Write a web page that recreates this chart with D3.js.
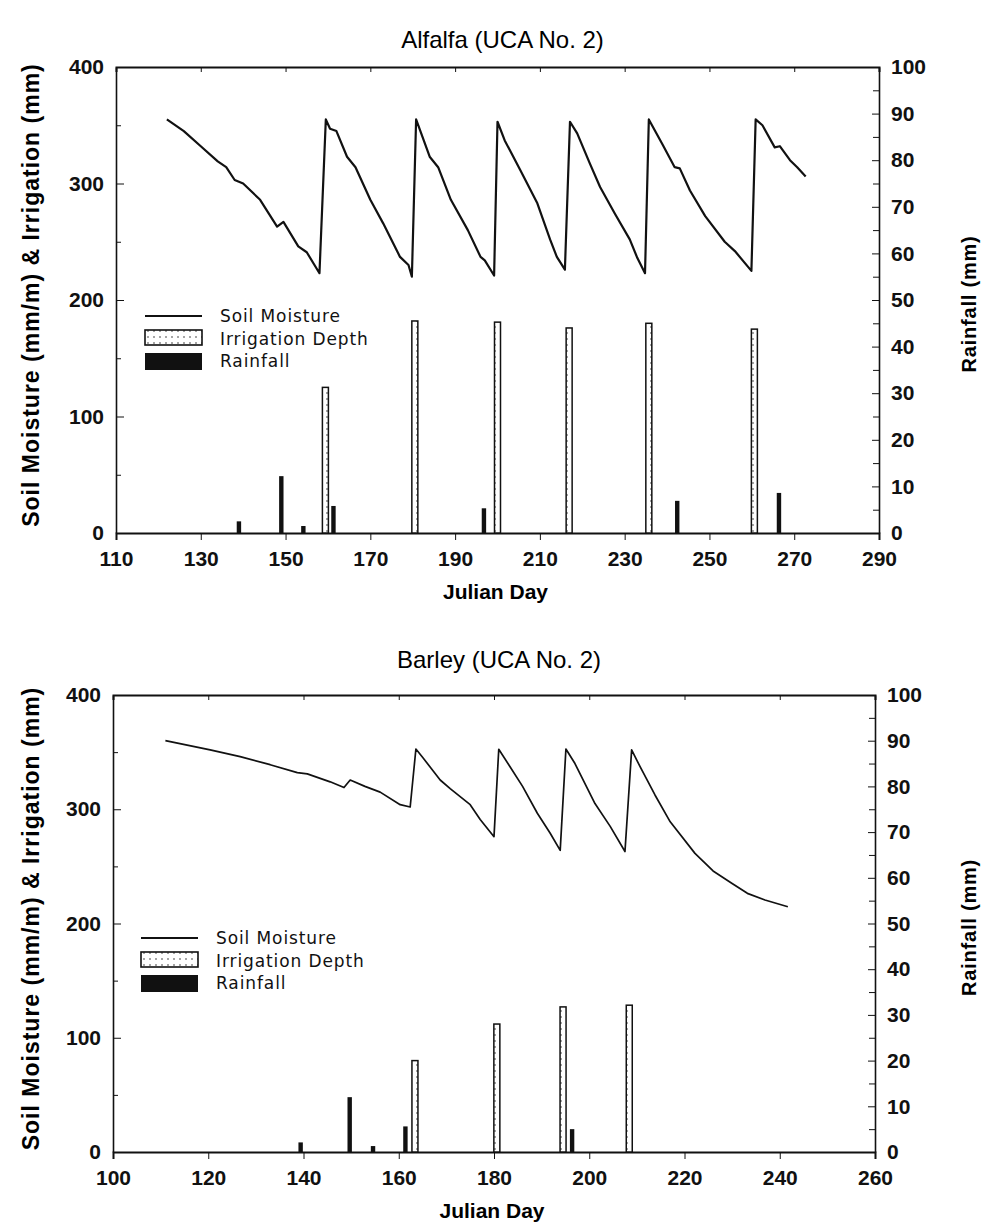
<!DOCTYPE html>
<html>
<head>
<meta charset="utf-8">
<script src="https://cdn.jsdelivr.net/npm/d3@7"></script>
<style>
    body { margin: 0; background: #fff; }
    .tick text { font-family: "Liberation Sans", Arial, sans-serif; font-size: 21px; font-weight: bold; fill: #111; }
    .domain, .tick line { stroke: #111; }
    .legend text { font-family: "DejaVu Sans", sans-serif; font-size: 17px; letter-spacing: 0.9px; fill: #111; }
</style>
</head>
<body>
<svg id="chart" width="982" height="1226"></svg>
<script>
// Alfalfa: soil moisture [julian day, mm/m]
const alfalfaMoisture = [
    [122, 355], [126, 345], [130, 332], [134, 319], [136, 314], [138, 303], [140, 300],
    [144, 286], [148, 263], [149.5, 267], [153, 246], [155, 241], [158, 223],
    [159.5, 355], [160.5, 347], [162, 345], [164.5, 323], [166.5, 314], [170, 286],
    [173, 266], [177, 237], [179, 230], [179.8, 220],
    [180.8, 355], [184, 323], [186, 314], [189, 286], [193, 260], [196, 237],
    [197, 234], [199.2, 221],
    [200, 353], [201.7, 337], [205.3, 312], [209.4, 283], [212.4, 252], [214, 237],
    [215.9, 226],
    [217.1, 353], [218.8, 343], [221.8, 317], [224.2, 297], [227.7, 274], [231.2, 252],
    [233, 236], [234.8, 223],
    [235.7, 355], [239, 333], [241.8, 314], [243, 313], [245.4, 294], [249, 272],
    [253.6, 250], [256, 242], [259.9, 225],
    [260.9, 355], [262.5, 350], [265.4, 331], [266.6, 332], [269, 320], [270.7, 314],
    [272.7, 306],
];
// Alfalfa: irrigation depth [day, mm]
const alfalfaIrrigation = [[159.4, 125], [180.5, 182], [200, 181], [216.9, 176], [235.7, 180], [260.6, 175]];
// Alfalfa: rainfall [day, mm]
const alfalfaRain = [[139, 2.5], [149, 12.2], [154.2, 1.5], [161.3, 5.8], [196.8, 5.3], [242.4, 6.9], [266.4, 8.6]];

// Barley
const barleyMoisture = [
    [111, 360], [120.4, 352], [126.7, 346], [133, 339], [138.7, 332], [140.8, 331],
    [145.6, 324], [148.5, 319], [149.8, 325.6], [152.9, 320], [156.1, 315], [160.3, 304],
    [162.4, 302],
    [163.6, 352.7], [165, 345.5], [168.7, 325.6], [170.8, 318], [175, 304], [177.1, 291],
    [180, 276],
    [181, 352.5], [183.4, 337], [186, 320], [189.1, 296.5], [191.8, 279], [193.9, 264],
    [195.1, 352.7], [197, 340], [201.2, 305], [204.4, 285], [207.5, 263],
    [208.9, 352], [210.7, 337], [213.8, 312.5], [217, 289], [222.2, 261.4], [226, 246],
    [230, 235], [233.2, 226.4], [236.9, 220.6], [241.7, 214.7],
];
const barleyIrrigation = [[163.4, 80], [180.6, 112], [194.5, 127], [208.4, 128.5]];
const barleyRain = [[139.4, 2.1], [149.7, 12], [154.6, 1.3], [161.4, 5.6], [196.4, 5]];

const alfalfaTicks = d3.range(110, 291, 20);
const barleyTicks = d3.range(100, 261, 20);
const moistureTicks = [0, 100, 200, 300, 400];
const rainTicks = d3.range(0, 101, 10);
const legendLabels = ['Soil Moisture', 'Irrigation Depth', 'Rainfall'];

const svg = d3.select('#chart');
const labelFont = '"Liberation Sans", Arial, sans-serif';

// dotted fill for the irrigation bars
const defs = svg.append('defs');
const pat = defs.append('pattern')
    .attr('id', 'dots')
    .attr('patternUnits', 'userSpaceOnUse')
    .attr('width', 6)
    .attr('height', 6);
pat.append('rect').attr('width', 6).attr('height', 6).attr('fill', '#fff');
pat.append('circle').attr('cx', 3).attr('cy', 3).attr('r', 0.8).attr('fill', '#333');

function drawPanel(opt) {
    const x = d3.scaleLinear().domain(opt.domain).range([opt.left, opt.right]);
    const y = d3.scaleLinear().domain([0, 400]).range([opt.bottom, opt.top]);
    const yr = d3.scaleLinear().domain([0, 100]).range([opt.bottom, opt.top]);
    const g = svg.append('g');

    g.append('text')
        .attr('x', (opt.left + opt.right) / 2 + 5)
        .attr('y', opt.titleY)
        .attr('text-anchor', 'middle')
        .style('font-family', labelFont)
        .style('font-size', '24px')
        .text(opt.title);

    // minor ticks
    g.append('g')
        .attr('transform', `translate(${opt.left},0)`)
        .call(d3.axisRight(y).tickValues(d3.range(50, 400, 100)).tickSize(5).tickFormat(''))
        .call((s) => s.select('.domain').remove());
    g.append('g')
        .attr('transform', `translate(${opt.right},0)`)
        .call(d3.axisLeft(yr).tickValues(d3.range(5, 100, 10)).tickSize(6).tickFormat(''))
        .call((s) => s.select('.domain').remove());

    const yAxis = g.append('g')
        .attr('transform', `translate(${opt.left},0)`)
        .call(d3.axisLeft(y).tickValues(moistureTicks).tickSizeInner(-8).tickSizeOuter(0).tickPadding(12));
    yAxis.select('.domain').attr('stroke-width', 1.6);

    const rAxis = g.append('g')
        .attr('transform', `translate(${opt.right},0)`)
        .call(d3.axisRight(yr).tickValues(rainTicks).tickSizeInner(-7).tickSizeOuter(0).tickPadding(12));
    rAxis.select('.domain').attr('stroke-width', 1.6);

    const xAxis = g.append('g')
        .attr('transform', `translate(0,${opt.bottom})`)
        .call(d3.axisBottom(x).tickValues(opt.ticks).tickSize(7).tickPadding(7));
    xAxis.select('.domain').attr('stroke-width', 2);
    xAxis.selectAll('.tick text').attr('dy', '0.9em');

    const topAxis = g.append('g')
        .attr('transform', `translate(0,${opt.top})`)
        .call(d3.axisTop(x).tickValues(opt.ticks.slice(1, -1)).tickSize(-5).tickFormat(''));
    topAxis.select('.domain').attr('stroke-width', 2);

    g.append('text')
        .attr('x', (opt.left + opt.right) / 2 - 2)
        .attr('y', opt.bottom + 66)
        .attr('text-anchor', 'middle')
        .style('font-family', labelFont)
        .style('font-size', '21px')
        .style('font-weight', 'bold')
        .text('Julian Day');

    g.append('text')
        .attr('transform', `translate(39,${(opt.top + opt.bottom) / 2 - 5}) rotate(-90)`)
        .attr('text-anchor', 'middle')
        .style('font-family', labelFont)
        .style('font-size', '23px')
        .style('letter-spacing', '1px')
        .style('font-weight', 'bold')
        .text('Soil Moisture (mm/m) & Irrigation (mm)');

    g.append('text')
        .attr('transform', `translate(976,${(opt.top + opt.bottom) / 2 + 4}) rotate(-90)`)
        .attr('text-anchor', 'middle')
        .style('font-family', labelFont)
        .style('font-size', '20px')
        .style('letter-spacing', '0.8px')
        .style('font-weight', 'bold')
        .text('Rainfall (mm)');

    // bars
    g.selectAll('.irr')
        .data(opt.irrigation)
        .join('rect')
        .attr('x', (d) => x(d[0]) - 3)
        .attr('y', (d) => y(d[1]))
        .attr('width', 6)
        .attr('height', (d) => opt.bottom - y(d[1]))
        .attr('fill', 'url(#dots)')
        .attr('stroke', '#111')
        .attr('stroke-width', 1.5);

    g.selectAll('.rain')
        .data(opt.rain)
        .join('rect')
        .attr('x', (d) => x(d[0]) - 2.2)
        .attr('y', (d) => yr(d[1]))
        .attr('width', 4.4)
        .attr('height', (d) => opt.bottom - yr(d[1]))
        .attr('fill', '#111');

    const line = d3.line().x((d) => x(d[0])).y((d) => y(d[1]));
    g.append('path')
        .datum(opt.moisture)
        .attr('d', line)
        .attr('fill', 'none')
        .attr('stroke', '#111')
        .attr('stroke-width', opt.lineWidth)
        .attr('stroke-linejoin', 'round');

    // legend
    const lg = g.append('g')
        .attr('class', 'legend')
        .attr('transform', `translate(${opt.legend[0]},${opt.legend[1]})`);
    lg.append('line')
        .attr('x1', 0).attr('x2', 57).attr('y1', 0).attr('y2', 0)
        .attr('stroke', '#111').attr('stroke-width', 2.2);
    lg.append('rect')
        .attr('x', 0).attr('y', 14).attr('width', 57).attr('height', 15)
        .attr('fill', 'url(#dots)').attr('stroke', '#111').attr('stroke-width', 1.6);
    lg.append('rect')
        .attr('x', 0).attr('y', 37).attr('width', 57).attr('height', 17)
        .attr('fill', '#111');
    lg.selectAll('text')
        .data(legendLabels)
        .join('text')
        .attr('x', 75)
        .attr('y', (d, i) => i * 22.5 + 6)
        .text((d) => d);
}

drawPanel({
    title: 'Alfalfa (UCA No. 2)',
    titleY: 48,
    domain: [110, 290],
    ticks: alfalfaTicks,
    left: 116, right: 879, top: 67, bottom: 533,
    moisture: alfalfaMoisture,
    irrigation: alfalfaIrrigation,
    rain: alfalfaRain,
    legend: [145, 316],
    lineWidth: 2.2,
});

drawPanel({
    title: 'Barley (UCA No. 2)',
    titleY: 668,
    domain: [100, 260],
    ticks: barleyTicks,
    left: 113, right: 875, top: 695, bottom: 1152,
    moisture: barleyMoisture,
    irrigation: barleyIrrigation,
    rain: barleyRain,
    legend: [141, 938],
    lineWidth: 1.7,
});
</script>
</body>
</html>
